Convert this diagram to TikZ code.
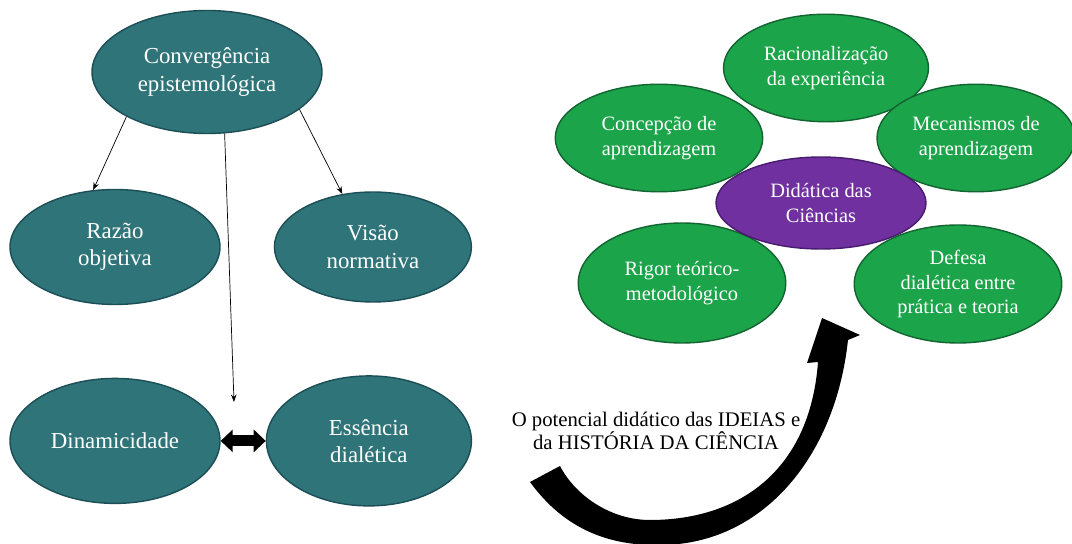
\documentclass[tikz,border=0pt]{standalone}
\usepackage{fontspec}
\setmainfont{Liberation Serif}
\usetikzlibrary{arrows.meta,positioning,shapes.geometric}

\definecolor{tealfill}{RGB}{47,116,121}
\definecolor{tealline}{RGB}{28,78,86}
\definecolor{greenfill}{RGB}{28,164,74}
\definecolor{greenline}{RGB}{18,100,48}
\definecolor{purplefill}{RGB}{112,48,160}
\definecolor{purpleline}{RGB}{72,28,108}

\begin{document}
\begin{tikzpicture}[x=0.2mm,y=-0.2mm,
      node distance=14.5mm and 10.6mm,
      tealbox/.style={ellipse,draw=tealline,line width=0.8pt,fill=tealfill,
                      text=white,align=center,inner sep=1pt,
                      font=\fontsize{13}{15.5}\selectfont},
      greenbox/.style={ellipse,draw=greenline,line width=0.8pt,fill=greenfill,
                       text=white,align=center,inner sep=1pt,
                       minimum width=41.5mm,minimum height=21.5mm,
                       font=\fontsize{11.6}{14}\selectfont},
      arr/.style={-{Stealth[length=1.5mm,width=1.1mm]},thin},
      dblarr/.style={{Triangle[length=2.4mm,width=4.4mm]}-{Triangle[length=2.4mm,width=4.4mm]},
                     line width=2.2mm}]
    \useasboundingbox (0,0) rectangle (1072,544);

    % left part
    \node[tealbox,minimum width=46mm,minimum height=24.6mm] (conv) at (207,72)
      {Convergência\\epistemológica};
    \node[tealbox,minimum width=42mm,minimum height=23mm] (razao) at (115,247)
      {Razão\\objetiva};
    \node[tealbox,minimum width=39.4mm,minimum height=22mm,right=of razao] (visao)
      {Visão\\normativa};
    \node[tealbox,minimum width=42mm,minimum height=25mm,below=of razao] (dinam)
      {Dinamicidade};
    \node[tealbox,minimum width=41mm,minimum height=26mm,right=9mm of dinam] (essen)
      {Essência\\dialética};
    \coordinate (meio) at (234,402);
    \draw[arr] (conv.209) -- (razao.111);
    \draw[arr] (conv.338) -- (visao.120);
    \draw[arr] (conv.286) -- (meio);
    \draw[dblarr] (dinam.east) -- (essen.west);

    % right part
    \node[greenbox,minimum width=41mm] (racio) at (826,68)
      {Racionalização\\da experiência};
    \node[greenbox] (concep) at (659,138) {Concepção de\\aprendizagem};
    \node[greenbox,minimum width=39.6mm] (meca) at (976,138)
      {Mecanismos de\\aprendizagem};
    \node[greenbox,minimum height=24mm] (rigor) at (682,283)
      {Rigor teórico-\\metodológico};
    \node[greenbox,minimum height=23.6mm] (defesa) at (958,284)
      {Defesa\\dialética entre\\prática e teoria};
    \node[greenbox,fill=purplefill,draw=purpleline,minimum width=42mm,
          minimum height=18.4mm] (didat) at (821,203) {Didática das\\Ciências};

    \node[font=\fontsize{11.8}{13.5}\selectfont,align=center] (potencial) at (656,431)
      {O potencial didático das IDEIAS e\\da HISTÓRIA DA CIÊNCIA};
    % curved arrow
    \fill (530,482) .. controls (565,530) and (610,546) .. (660,545)
      .. controls (760,545) and (835,460) .. (848,340) -- (860,335) -- (822,318)
      -- (807,363) -- (818,362) .. controls (810,470) and (740,520) .. (650,520)
      .. controls (610,520) and (575,495) .. (560,466) -- cycle;
  \end{tikzpicture}
\end{document}
